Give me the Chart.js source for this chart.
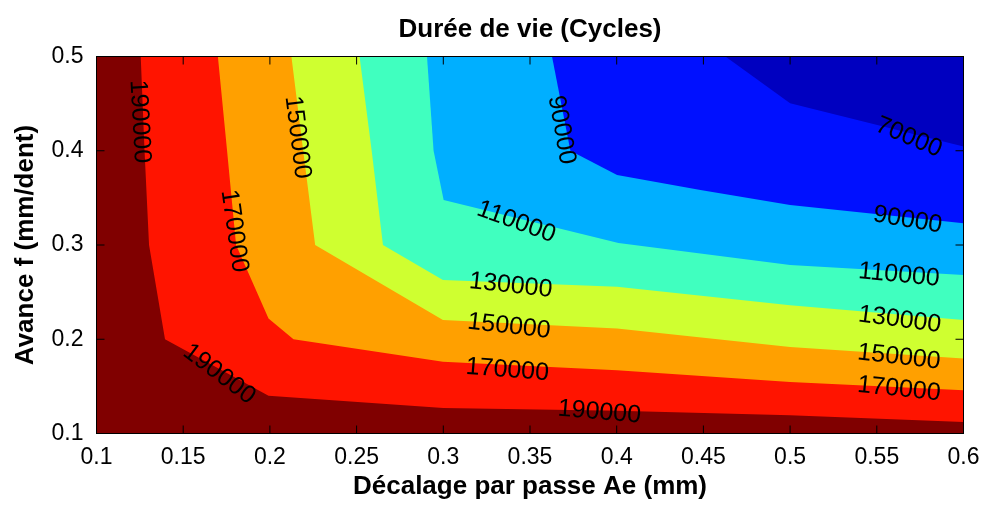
<!DOCTYPE html>
<html>
<head>
<meta charset="utf-8">
<script src="https://cdn.jsdelivr.net/npm/chart.js@4.4.1/dist/chart.umd.min.js"></script>
<style>
  html, body { margin: 0; padding: 0; background: #fff; }
</style>
</head>
<body>
<canvas id="chart" width="985" height="505"></canvas>
<script>
// axes
const aeRange = [0.1, 0.6];
const fRange = [0.1, 0.5];
const xTicks = [0.1, 0.15, 0.2, 0.25, 0.3, 0.35, 0.4, 0.45, 0.5, 0.55, 0.6];
const yTicks = [0.1, 0.2, 0.3, 0.4, 0.5];

// iso-lines of tool life, each runs from the top edge down to the right edge
const levels = [190000, 170000, 150000, 130000, 110000, 90000, 70000];
const iso190000Ae = [0.1255, 0.1277, 0.1303, 0.1395, 0.1992, 0.300, 0.4004, 0.500, 0.600];
const iso190000F  = [0.500, 0.400, 0.300, 0.200, 0.140, 0.1271, 0.1241, 0.1194, 0.1122];
const iso170000Ae = [0.170, 0.1753, 0.1805, 0.1992, 0.2136, 0.2998, 0.4002, 0.500, 0.600];
const iso170000F  = [0.500, 0.400, 0.300, 0.222, 0.200, 0.176, 0.1672, 0.1547, 0.1459];
const iso150000Ae = [0.2124, 0.2192, 0.2261, 0.2998, 0.4002, 0.500, 0.600];
const iso150000F  = [0.500, 0.400, 0.300, 0.2203, 0.2115, 0.1919, 0.1796];
const iso130000Ae = [0.2517, 0.2587, 0.2652, 0.2998, 0.4002, 0.500, 0.600];
const iso130000F  = [0.500, 0.400, 0.300, 0.2628, 0.2557, 0.2362, 0.2203];
const iso110000Ae = [0.2906, 0.2944, 0.3002, 0.401, 0.500, 0.600];
const iso110000F  = [0.500, 0.400, 0.3478, 0.302, 0.2787, 0.2681];
const iso90000Ae  = [0.3627, 0.3733, 0.4002, 0.4483, 0.500, 0.600];
const iso90000F   = [0.500, 0.400, 0.3743, 0.3584, 0.3425, 0.323];
const iso70000Ae  = [0.4627, 0.500, 0.600];
const iso70000F   = [0.500, 0.4505, 0.4044];

// jet colours, first one is the band above 190000
const bandColors = ['#800000', '#FF1400', '#FFA000', '#CFFF30', '#40FFBF', '#00AFFF', '#0010FF', '#0000C0'];

// inline contour labels
const labelText  = ['190000', '170000', '150000', '190000', '90000', '110000', '130000', '150000',
                    '170000', '190000', '70000', '90000', '110000', '130000', '150000', '170000'];
const labelAe    = [0.1249, 0.1794, 0.2159, 0.1707, 0.3681, 0.3421, 0.3389, 0.3379,
                    0.3369, 0.3900, 0.5684, 0.5678, 0.5628, 0.5632, 0.5628, 0.5628];
const labelF     = [0.4309, 0.3148, 0.4142, 0.1629, 0.4221, 0.3244, 0.2569, 0.2136,
                    0.1672, 0.1225, 0.4142, 0.3265, 0.2681, 0.2206, 0.1810, 0.1470];
const labelAngle = [87, 82, 83, 37, 80, 20, 6, 6.5, 4.5, 5, 23, 9.5, 5.5, 7.5, 6.5, 6];

const isoAe = [iso190000Ae, iso170000Ae, iso150000Ae, iso130000Ae, iso110000Ae, iso90000Ae, iso70000Ae];
const isoF = [iso190000F, iso170000F, iso150000F, iso130000F, iso110000F, iso90000F, iso70000F];

const FONT = '"Liberation Sans", Arial, Helvetica, sans-serif';
Chart.defaults.font.family = FONT;
Chart.defaults.color = '#000';

const datasets = [{
    label: '> ' + levels[0],
    data: [
        { x: aeRange[0], y: fRange[0] }, { x: aeRange[1], y: fRange[0] },
        { x: aeRange[1], y: fRange[1] }, { x: aeRange[0], y: fRange[1] }
    ],
    backgroundColor: bandColors[0],
    fill: 'shape',
    order: levels.length + 1
}];

levels.forEach((level, i) => {
    const pts = isoAe[i].map((ae, k) => ({ x: ae, y: isoF[i][k] }));
    pts.push({ x: aeRange[1], y: fRange[1] });   // close over the top right corner
    datasets.push({
        label: '< ' + level,
        data: pts,
        backgroundColor: bandColors[i + 1],
        fill: 'shape',
        order: levels.length - i
    });
});

const contourLabels = {
    id: 'contourLabels',
    afterDatasetsDraw(chart) {
        const { ctx, scales: { x, y } } = chart;
        ctx.save();
        ctx.font = '25px ' + FONT;
        ctx.fillStyle = '#000';
        ctx.textAlign = 'center';
        ctx.textBaseline = 'middle';
        labelText.forEach((t, i) => {
            ctx.save();
            ctx.translate(x.getPixelForValue(labelAe[i]), y.getPixelForValue(labelF[i]));
            ctx.rotate(labelAngle[i] * Math.PI / 180);
            ctx.fillText(t, 0, 0);
            ctx.restore();
        });
        ctx.restore();
    }
};

// matlab style box with inward ticks
const frame = {
    id: 'frame',
    afterDraw(chart) {
        const { ctx, chartArea: a, scales: { x, y } } = chart;
        const len = 8;
        ctx.save();
        ctx.strokeStyle = '#000';
        ctx.lineWidth = 1;
        ctx.beginPath();
        xTicks.forEach(v => {
            const px = x.getPixelForValue(v);
            ctx.moveTo(px, a.bottom); ctx.lineTo(px, a.bottom - len);
            ctx.moveTo(px, a.top); ctx.lineTo(px, a.top + len);
        });
        yTicks.forEach(v => {
            const py = y.getPixelForValue(v);
            ctx.moveTo(a.left, py); ctx.lineTo(a.left + len, py);
            ctx.moveTo(a.right, py); ctx.lineTo(a.right - len, py);
        });
        ctx.stroke();
        ctx.strokeRect(a.left, a.top, a.right - a.left, a.bottom - a.top);
        ctx.restore();
    }
};

new Chart(document.getElementById('chart'), {
    type: 'line',
    data: { datasets },
    options: {
        responsive: false,
        animation: false,
        layout: { padding: { left: 0, right: 21.5, top: 0, bottom: 0 } },
        elements: {
            line: { borderWidth: 0, borderColor: 'rgba(0,0,0,0)', tension: 0 },
            point: { radius: 0, hoverRadius: 0 }
        },
        plugins: {
            legend: { display: false },
            tooltip: { enabled: false },
            title: {
                display: true,
                fullSize: false,
                text: 'Durée de vie (Cycles)',
                color: '#000',
                font: { size: 26, weight: 'bold' },
                padding: { top: 14, bottom: 11.3 }
            }
        },
        scales: {
            x: {
                type: 'linear',
                min: aeRange[0],
                max: aeRange[1],
                afterBuildTicks: s => { s.ticks = xTicks.map(v => ({ value: v })); },
                afterFit: s => { s.height = 71.5; s.paddingLeft = 0; s.paddingRight = 0; },
                grid: { display: false, drawTicks: false },
                border: { display: false },
                ticks: { font: { size: 23 }, color: '#000', padding: 10, maxRotation: 0, autoSkip: false,
                         callback: v => String(v) },
                title: {
                    display: true,
                    text: 'Décalage par passe Ae (mm)',
                    color: '#000',
                    font: { size: 26, weight: 'bold' },
                    padding: { top: 0, bottom: 2.5 }
                }
            },
            y: {
                type: 'linear',
                min: fRange[0],
                max: fRange[1],
                afterBuildTicks: s => { s.ticks = yTicks.map(v => ({ value: v })); },
                afterFit: s => { s.width = 96.5; },
                grid: { display: false, drawTicks: false },
                border: { display: false },
                ticks: { font: { size: 23 }, color: '#000', padding: 13, autoSkip: false,
                         callback: v => String(v) },
                title: {
                    display: true,
                    text: 'Avance f (mm/dent)',
                    color: '#000',
                    font: { size: 26, weight: 'bold' },
                    padding: { top: 10.4, bottom: 0 }
                }
            }
        }
    },
    plugins: [contourLabels, frame]
});
</script>
</body>
</html>
